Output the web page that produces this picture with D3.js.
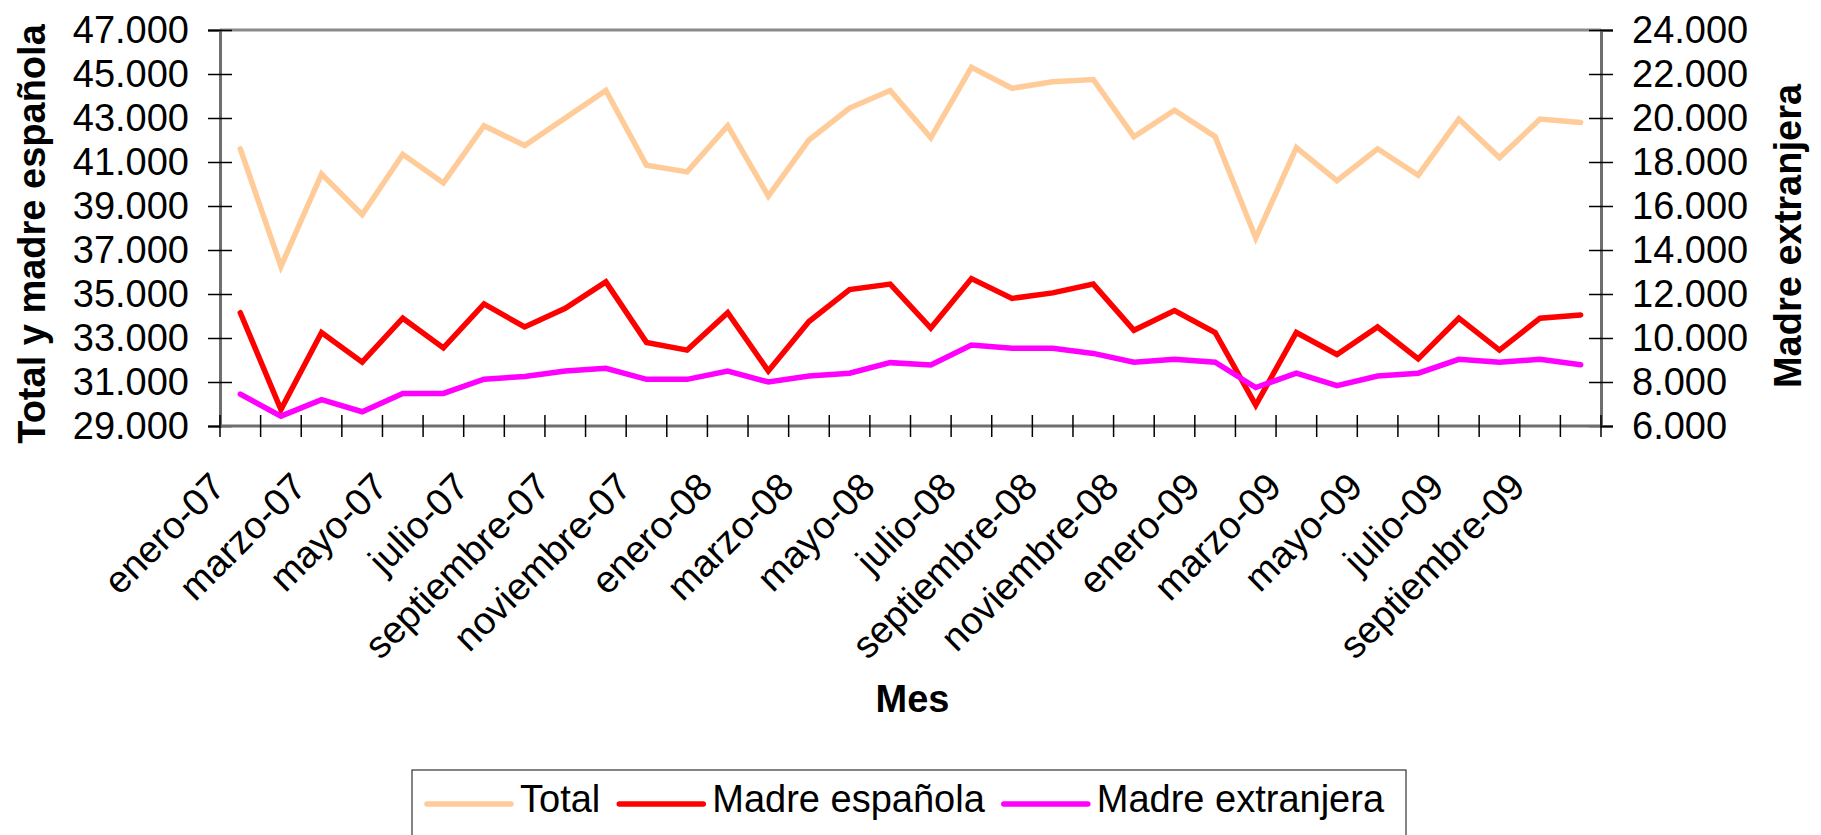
<!DOCTYPE html>
<html>
<head>
<meta charset="utf-8">
<script src="https://cdn.jsdelivr.net/npm/d3@7"></script>
<style>
  html, body { margin: 0; padding: 0; background: #fff; }
  svg { display: block; font-family: "Liberation Sans", Arial, sans-serif; }
</style>
</head>
<body>
<svg id="chart" width="1821" height="835"></svg>
<script>
const months = [
  "enero-07","febrero-07","marzo-07","abril-07","mayo-07","junio-07","julio-07","agosto-07","septiembre-07","octubre-07","noviembre-07","diciembre-07",
  "enero-08","febrero-08","marzo-08","abril-08","mayo-08","junio-08","julio-08","agosto-08","septiembre-08","octubre-08","noviembre-08","diciembre-08",
  "enero-09","febrero-09","marzo-09","abril-09","mayo-09","junio-09","julio-09","agosto-09","septiembre-09","octubre-09"
];
const total = [41600, 36250, 40450, 38600, 41350, 40050, 42650, 41750, 43000, 44250, 40850, 40550,
               42650, 39450, 42000, 43450, 44250, 42100, 45300, 44350, 44650, 44750, 42150, 43350,
               42150, 37550, 41650, 40150, 41600, 40400, 42950, 41200, 42950, 42800];
const madreEspanola = [34150, 29750, 33250, 31900, 33900, 32550, 34550, 33500, 34350, 35550, 32800, 32450,
                       34150, 31500, 33750, 35200, 35450, 33450, 35700, 34800, 35050, 35450, 33350, 34250,
                       33250, 29950, 33250, 32250, 33500, 32050, 33900, 32450, 33900, 34050];
const madreExtranjera = [7450, 6450, 7200, 6650, 7480, 7480, 8130, 8250, 8500, 8620, 8120, 8120,
                         8500, 8000, 8270, 8400, 8880, 8770, 9680, 9530, 9530, 9300, 8900, 9030,
                         8900, 7750, 8400, 7830, 8270, 8400, 9030, 8900, 9030, 8780];
const leftTicks = [29000, 31000, 33000, 35000, 37000, 39000, 41000, 43000, 45000, 47000];
const rightTicks = [6000, 8000, 10000, 12000, 14000, 16000, 18000, 20000, 22000, 24000];
const seriesNames = ["Total", "Madre española", "Madre extranjera"];
const seriesColors = ["#FFCC99", "#FF0000", "#FF00FF"];

const W = 1821, H = 835;
const L = 220, R = 1601, T = 30, B = 426;
const FS = 38;

const svg = d3.select("#chart");
const loc = d3.formatLocale({decimal: ",", thousands: ".", grouping: [3], currency: ["", ""]});
const fmt = loc.format(",.0f");

const x = d3.scaleBand().domain(months).range([L, R]).padding(0);
const yL = d3.scaleLinear().domain([29000, 47000]).range([B, T]);
const yR = d3.scaleLinear().domain([6000, 24000]).range([B, T]);
const cx = d => x(d) + x.bandwidth() / 2;

// Plot frame
svg.append("line").attr("x1", L).attr("x2", R).attr("y1", T).attr("y2", T)
  .attr("stroke", "#8a8a8a").attr("stroke-width", 3);

// Series lines
const seriesData = [
  {name: seriesNames[0], color: seriesColors[0], vals: total, y: yL},
  {name: seriesNames[1], color: seriesColors[1], vals: madreEspanola, y: yL},
  {name: seriesNames[2], color: seriesColors[2], vals: madreExtranjera, y: yR}
];
seriesData.forEach(s => {
  const line = d3.line().x((d, i) => cx(months[i])).y(d => s.y(d));
  svg.append("path").datum(s.vals).attr("d", line)
    .attr("fill", "none").attr("stroke", s.color).attr("stroke-width", 5.5)
    .attr("stroke-linejoin", "miter").attr("stroke-linecap", "round");
});

// Left axis
const gL = svg.append("g").attr("transform", `translate(${L},0)`)
  .call(d3.axisLeft(yL).tickValues(leftTicks).tickFormat(fmt).tickSize(12).tickPadding(19));
gL.select(".domain").attr("stroke", "#6e6e6e").attr("stroke-width", 3);
gL.selectAll(".tick line").attr("x2", -12).attr("x1", 12).attr("stroke", "#000").attr("stroke-width", 1.5);
gL.selectAll(".tick text").attr("font-size", FS).attr("fill", "#000").attr("font-family", "Liberation Sans, Arial, sans-serif");

// Right axis
const gR = svg.append("g").attr("transform", `translate(${R},0)`)
  .call(d3.axisRight(yR).tickValues(rightTicks).tickFormat(fmt).tickSize(12).tickPadding(19));
gR.select(".domain").attr("stroke", "#6e6e6e").attr("stroke-width", 3);
gR.selectAll(".tick line").attr("x1", -12).attr("x2", 12).attr("stroke", "#000").attr("stroke-width", 1.5);
gR.selectAll(".tick text").attr("font-size", FS).attr("fill", "#000").attr("font-family", "Liberation Sans, Arial, sans-serif");

// Bottom axis (ticks at category boundaries)
const gB = svg.append("g").attr("transform", `translate(0,${B})`);
gB.append("line").attr("x1", L).attr("x2", R).attr("y1", 0).attr("y2", 0)
  .attr("stroke", "#6e6e6e").attr("stroke-width", 3);
const boundaries = months.map(m => x(m)).concat([R]);
gB.selectAll("line.tk").data(boundaries).enter().append("line").attr("class", "tk")
  .attr("x1", d => d).attr("x2", d => d).attr("y1", -11).attr("y2", 11)
  .attr("stroke", "#000").attr("stroke-width", 1.5);
const labeled = months.filter((m, i) => i % 2 === 0);
svg.append("g").selectAll("text").data(labeled).enter().append("text")
  .attr("transform", d => `translate(${cx(d) - 13},${489}) rotate(-45)`)
  .attr("text-anchor", "end").attr("font-size", FS).attr("fill", "#000")
  .text(d => d);

// Axis titles
svg.append("text").attr("transform", `translate(45,${(T + B) / 2 + 6}) rotate(-90)`)
  .attr("text-anchor", "middle").attr("font-size", FS).attr("font-weight", "bold")
  .text("Total y madre española");
svg.append("text").attr("transform", `translate(1801,${(T + B) / 2 + 8}) rotate(-90)`)
  .attr("text-anchor", "middle").attr("font-size", FS).attr("font-weight", "bold")
  .text("Madre extranjera");
svg.append("text").attr("x", (L + R) / 2 + 2).attr("y", 712)
  .attr("text-anchor", "middle").attr("font-size", FS).attr("font-weight", "bold")
  .text("Mes");

// Legend
const lg = svg.append("g");
lg.append("rect").attr("x", 412).attr("y", 770).attr("width", 994).attr("height", 120)
  .attr("fill", "#fff").attr("stroke", "#333").attr("stroke-width", 1.2);
let lx = 425;
seriesData.forEach(s => {
  lg.append("line").attr("x1", lx + 2).attr("x2", lx + 86).attr("y1", 804).attr("y2", 804)
    .attr("stroke", s.color).attr("stroke-width", 5.5).attr("stroke-linecap", "round");
  const t = lg.append("text").attr("x", lx + 95).attr("y", 812).attr("font-size", FS).text(s.name);
  lx = lx + 95 + t.node().getComputedTextLength() + 17;
});
</script>
</body>
</html>
